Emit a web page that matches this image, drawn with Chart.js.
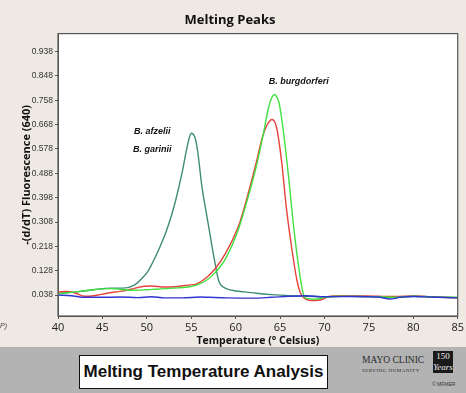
<!DOCTYPE html>
<html>
<head>
<meta charset="utf-8">
<script src="https://cdn.jsdelivr.net/npm/chart.js@4"></script>
<style>
  body { margin: 0; width: 466px; height: 393px; background: #efe9e3; overflow: hidden; position: relative; font-family: "Liberation Sans", Arial, sans-serif; }
  #wrap { position: absolute; left: 0; top: 0; width: 466px; height: 347px; }
  #band { position: absolute; left: 0; top: 347px; width: 466px; height: 46px; background: #b3b3b3; }
  #box { position: absolute; left: 79px; top: 8px; width: 247px; height: 32px; background: #fff; border: 1px solid #111;
         font: bold 17px "Liberation Sans", Arial, sans-serif; color: #111; text-align: center; line-height: 32px; }
  #mayo { position: absolute; left: 362px; top: 8px; font: 9.5px "Liberation Serif", serif; color: #2a2a2a; letter-spacing: 0; }
  #serve { position: absolute; left: 362px; top: 21px; font: 5px "Liberation Serif", serif; color: #2a2a2a; letter-spacing: 0.5px; }
  #yrs { position: absolute; left: 433px; top: 4px; width: 20px; height: 22px; background: #1a1a1a; color: #eee;
         font: 9px "Liberation Serif", serif; text-align: center; line-height: 11px; }
  #copy { position: absolute; left: 432px; top: 34px; font: 5px "Liberation Sans", Arial, sans-serif; color: #333; }
  #cut { position: absolute; left: 0; top: 322px; font: italic 7px "Liberation Sans", Arial, sans-serif; color: #444; }
</style>
</head>
<body>
<div id="wrap"><canvas id="chart" width="466" height="347"></canvas></div>
<div id="cut">P)</div>
<div id="band">
  <div id="box">Melting Temperature Analysis</div>
  <div id="mayo">MAYO CLINIC</div>
  <div id="serve">SERVING HUMANITY</div>
  <div id="yrs">150<br><i>Years</i></div>
  <div id="copy">© MFMER</div>
</div>
<script>
// melt curves
var afzeliiT = [40, 42, 44, 46, 47.3, 48.6, 49.4, 50.1, 50.6, 51.4, 52.2, 52.8, 53.3, 54.0, 54.6, 55.0, 55.4, 55.7, 56.2, 56.6, 57.0, 57.6, 58.1, 58.6, 59.6, 61, 62.3, 64, 66, 68, 70, 72, 75, 78, 80, 82, 85];
var afzeliiV = [0.045, 0.05, 0.058, 0.064, 0.064, 0.075, 0.098, 0.125, 0.155, 0.21, 0.275, 0.335, 0.395, 0.495, 0.595, 0.636, 0.622, 0.575, 0.44, 0.36, 0.285, 0.17, 0.09, 0.068, 0.056, 0.05, 0.045, 0.04, 0.036, 0.034, 0.032, 0.034, 0.033, 0.03, 0.034, 0.032, 0.029];

var burgGreenT = [40, 42, 44, 46, 48.3, 50, 51, 53, 54.6, 55.6, 56.8, 57.8, 58.9, 60.4, 61.2, 62.3, 63.2, 63.7, 64.1, 64.4, 64.7, 64.9, 65.4, 66.0, 66.5, 67.1, 67.6, 67.9, 69.0, 70, 72, 74, 76, 78, 80, 82, 85];
var burgGreenV = [0.042, 0.05, 0.058, 0.062, 0.056, 0.058, 0.06, 0.064, 0.068, 0.075, 0.095, 0.125, 0.175, 0.29, 0.377, 0.51, 0.647, 0.73, 0.77, 0.779, 0.765, 0.746, 0.636, 0.462, 0.30, 0.141, 0.045, 0.027, 0.023, 0.03, 0.034, 0.033, 0.032, 0.03, 0.034, 0.031, 0.03];

var burgRedT = [40, 41, 42, 43, 44, 45.5, 47.2, 48.5, 49.7, 50.5, 52.0, 53.5, 54.6, 55.6, 56.8, 57.8, 58.9, 60.4, 61.2, 62.3, 63.0, 63.6, 64.1, 64.6, 65.2, 65.7, 66.3, 66.9, 67.3, 67.8, 68.5, 69.5, 70.5, 72, 74, 76, 78, 80, 82, 85];
var burgRedV = [0.05, 0.052, 0.045, 0.034, 0.036, 0.045, 0.053, 0.062, 0.071, 0.072, 0.068, 0.07, 0.075, 0.08, 0.105, 0.14, 0.195, 0.30, 0.388, 0.525, 0.62, 0.67, 0.687, 0.658, 0.525, 0.363, 0.215, 0.093, 0.045, 0.025, 0.018, 0.02, 0.033, 0.036, 0.035, 0.034, 0.033, 0.035, 0.032, 0.028];

var blankT = [40, 41.5, 43, 45, 47, 49, 50.5, 52, 54, 56, 57, 59, 62, 64, 66, 68, 70, 73, 76, 77.4, 78.5, 80, 82, 85];
var blankV = [0.038, 0.036, 0.03, 0.03, 0.031, 0.029, 0.032, 0.028, 0.028, 0.031, 0.03, 0.028, 0.027, 0.03, 0.034, 0.036, 0.032, 0.033, 0.031, 0.024, 0.03, 0.033, 0.031, 0.028];

var yTicks = [0.038, 0.128, 0.218, 0.308, 0.398, 0.488, 0.578, 0.668, 0.758, 0.848, 0.938];
var xTicks = [40, 45, 50, 55, 60, 65, 70, 75, 80, 85];

var peakLabels = [
  { text: 'B. afzelii', x: 50.6, y: 0.643 },
  { text: 'B. garinii', x: 50.6, y: 0.577 },
  { text: 'B. burgdorferi', x: 67.1, y: 0.827 }
];

function pts(t, v) {
  return t.map(function(x, i) { return { x: x, y: v[i] }; });
}

function line(label, t, v, color) {
  return {
    label: label,
    data: pts(t, v),
    borderColor: color,
    borderWidth: 1.4,
    pointRadius: 0,
    cubicInterpolationMode: 'monotone',
    fill: false
  };
}

var framePlugin = {
  id: 'frame',
  beforeDraw: function(chart) {
    var ctx = chart.ctx, a = chart.chartArea;
    ctx.save();
    ctx.fillStyle = '#efe9e3';
    ctx.fillRect(0, 0, chart.width, chart.height);
    ctx.fillStyle = '#ffffff';
    ctx.fillRect(a.left, a.top, a.right - a.left, a.bottom - a.top);
    ctx.restore();
  },
  afterDraw: function(chart) {
    var ctx = chart.ctx, a = chart.chartArea;
    var xs = chart.scales.x, ys = chart.scales.y;
    ctx.save();
    ctx.strokeStyle = '#555';
    ctx.lineWidth = 1.2;
    ctx.strokeRect(a.left, a.top, a.right - a.left, a.bottom - a.top);
    ctx.fillStyle = '#111';
    ctx.font = 'italic bold 9px "Liberation Sans", Arial, sans-serif';
    ctx.textAlign = 'center';
    ctx.textBaseline = 'middle';
    peakLabels.forEach(function(p) {
      ctx.fillText(p.text, xs.getPixelForValue(p.x), ys.getPixelForValue(p.y));
    });
    ctx.restore();
  }
};

new Chart('chart', {
  type: 'line',
  data: {
    datasets: [
      line('blank', blankT, blankV, '#3035d2'),
      line('B. burgdorferi 2', burgGreenT, burgGreenV, '#3fe03f'),
      line('B. burgdorferi 1', burgRedT, burgRedV, '#e5423c'),
      line('B. afzelii / garinii', afzeliiT, afzeliiV, '#3f8c78')
    ]
  },
  options: {
    responsive: false,
    animation: false,
    layout: { padding: { left: 0, right: 6, top: 0, bottom: 0 } },
    plugins: {
      legend: { display: false },
      tooltip: { enabled: false },
      title: {
        display: true,
        text: 'Melting Peaks',
        color: '#111',
        font: { family: '"Open Sans"', size: 13, weight: 'bold' },
        padding: { top: 12, bottom: 6 }
      }
    },
    scales: {
      x: {
        type: 'linear',
        min: 40,
        max: 85,
        afterBuildTicks: function(s) { s.ticks = xTicks.map(function(v) { return { value: v }; }); },
        afterFit: function(s) { s.height = 31; },
        grid: { drawOnChartArea: false, tickLength: 3, color: '#555' },
        border: { color: '#555' },
        ticks: { color: '#222', font: { family: '"Open Sans"', size: 11 }, padding: 2, maxRotation: 0 },
        title: {
          display: true,
          text: 'Temperature (° Celsius)',
          color: '#111',
          font: { family: '"Open Sans"', size: 10.5, weight: 'bold' },
          padding: { top: 0, bottom: 0 }
        }
      },
      y: {
        min: -0.039,
        max: 1.004,
        afterBuildTicks: function(s) { s.ticks = yTicks.map(function(v) { return { value: v }; }); },
        afterFit: function(s) { s.width = 58; },
        grid: { drawOnChartArea: false, tickLength: 3, color: '#555' },
        border: { color: '#555' },
        ticks: {
          color: '#333',
          font: { family: '"Liberation Sans"', size: 8.5 },
          padding: 2,
          callback: function(v) { return v.toFixed(3); }
        },
        title: {
          display: true,
          text: '-(d/dT) Fluorescence (640)',
          color: '#111',
          font: { family: '"Open Sans"', size: 11, weight: 'bold' },
          padding: { top: 20, bottom: 0 }
        }
      }
    }
  },
  plugins: [framePlugin]
});
</script>
</body>
</html>
